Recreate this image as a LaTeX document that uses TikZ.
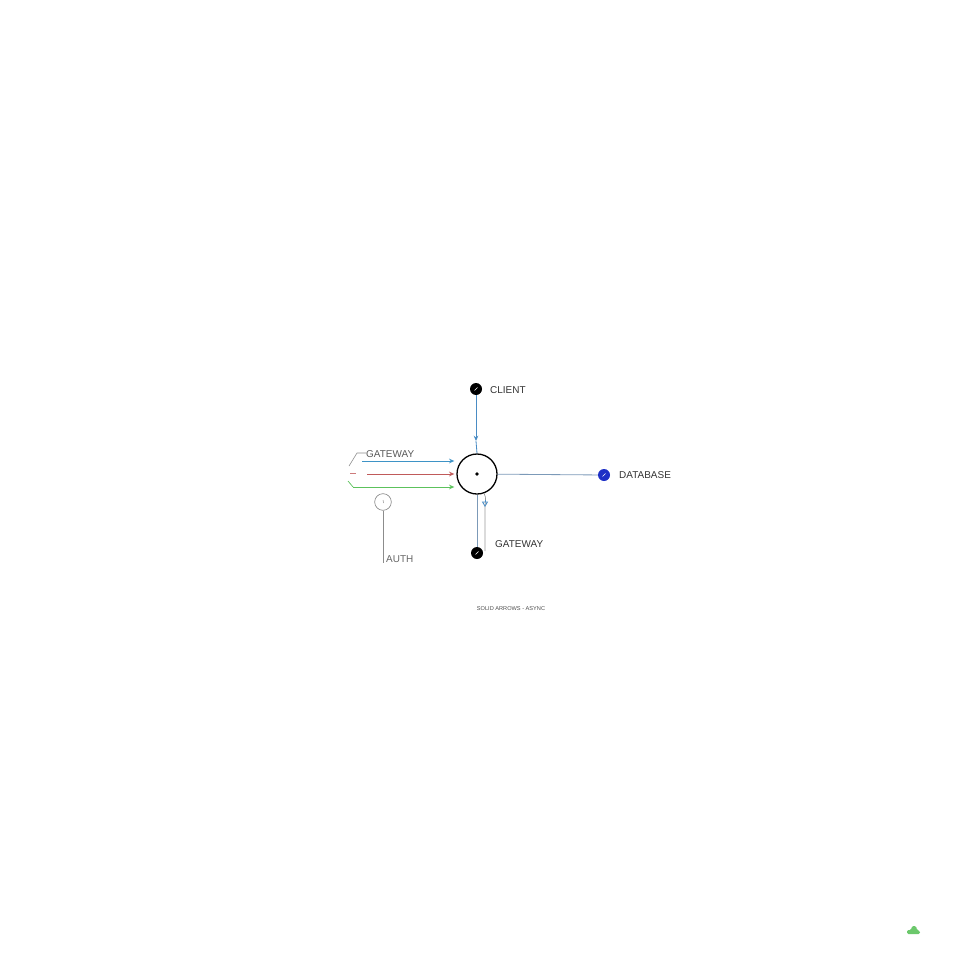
\documentclass[tikz,border=0pt]{standalone}
\usepackage{fontspec}
\setmainfont{Liberation Sans}
\usetikzlibrary{arrows.meta}
\definecolor{linkblue}{HTML}{4A8CC4}
\definecolor{hubgrey}{HTML}{7C9AB8}
\definecolor{arrowblue}{HTML}{3E93C6}
\definecolor{arrowred}{HTML}{C05A5A}
\definecolor{arrowgreen}{HTML}{5CC25C}
\definecolor{dbblue}{HTML}{1E30C6}
\definecolor{blobgreen}{HTML}{6CC86C}
\tikzset{
  enddot/.style={circle,fill=black,minimum size=3.6mm,inner sep=0pt},
  tag/.style={right,inner sep=0pt,text=black!80},
  feed/.style={line width=0.7pt,-{Stealth[length=1.6mm,width=1.4mm,open]}},
}
\begin{document}
\begin{tikzpicture}[x=0.3mm,y=-0.3mm,font=\fontsize{8.5}{10}\selectfont]
\useasboundingbox (0,0) rectangle (960,960);

% hub in the middle
\node (hub) at (477,474)[circle,draw,line width=1.1pt,minimum size=12mm,inner sep=0pt]{};
\node (hubdot) at (477,474)[circle,fill=black,minimum size=1.1mm,inner sep=0pt]{};

% end points
\node (client) at (476,389)[enddot]{};
\node (database) at (604,475)[enddot,fill=dbblue]{};
\node (gateway) at (477,553)[enddot]{};
\foreach \n in {client,database,gateway}
{
   \draw[white,line width=0.5pt] ([shift={(-1.5,1.5)}]\n.center) -- ([shift={(1.5,-1.5)}]\n.center);
}
\node (clienttag) at (490,390)[tag]{CLIENT};
\node (databasetag) at (619,475)[tag]{DATABASE};
\node (gatewaytag) at (495,544)[tag]{GATEWAY};

% client down into hub
\coordinate (clientmid) at (476,441);
\draw[feed,linkblue] (client) -- (clientmid);
\draw[linkblue,line width=0.7pt] (clientmid) -- (hub.north);

% hub to database and gateway
\draw[hubgrey,line width=0.7pt] (hub) -- (database);
\draw[hubgrey,line width=0.8pt] (hub) -- (gateway);
\coordinate (sidetop) at (485,507);
\coordinate (sidebot) at (485,551);
\draw[black!40,line width=0.6pt] (hub.-70) to[out=-60,in=90] (sidetop) -- (sidebot);
\draw[linkblue,line width=0.7pt,-{Triangle[length=1.6mm,width=1.8mm,open]}] (485,500) -- (sidetop);

% three feeds from the left
\foreach \y/\c/\s in {461/arrowblue/362,474/arrowred/367,487/arrowgreen/353}
{
   \coordinate (in\c) at (\s,\y);
   \draw[feed,\c] (in\c) -- ([xshift=-0.6mm]hub.west |- in\c);
}
\draw[black!45,line width=0.5pt] (349,466) -- (357,453) -- (366,453);
\draw[arrowred!80,line width=0.6pt] (350,473) -- (356,473);
\draw[arrowgreen,line width=0.6pt] (348,481) -- (353,487) -- (inarrowgreen);
\node (gatewayleft) at (366,454)[tag,text=black!65]{GATEWAY};

% auth
\node (auth) at (383,502)[circle,draw=black!50,line width=0.5pt,minimum size=5mm,inner sep=0pt]{};
\draw[black!50,line width=0.4pt] (auth.center) ++(0,-2) -- ++(0.5,3);
\coordinate (authfoot) at (383,563);
\draw[black!45,line width=0.6pt] (auth) -- (authfoot);
\node (authtag) at (386,559)[tag,text=black!60]{AUTH};

% legend line
\node (legend) at (511,609)[text=black!70]{\fontsize{4.8}{5}\selectfont SOLID ARROWS - ASYNC};

% corner mark
\fill[blobgreen,rounded corners=0.4mm] (907,934) -- (907,930) -- (911,930) -- (912,926) -- (916,926) -- (917,930) -- (920,931) -- (920,934) -- cycle;
\end{tikzpicture}
\end{document}
